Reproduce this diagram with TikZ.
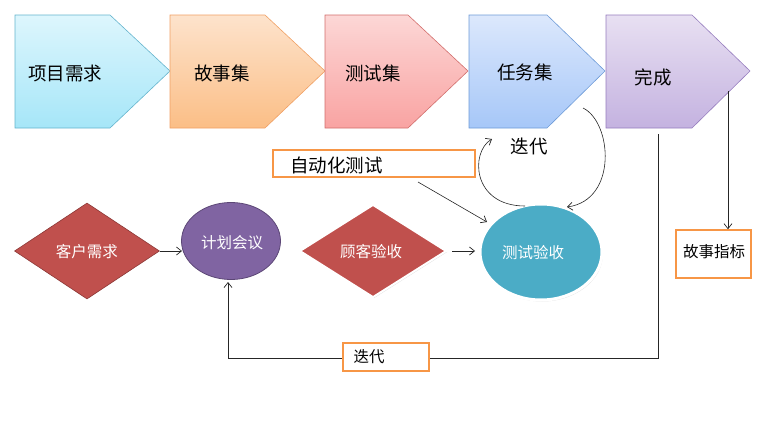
\documentclass[tikz,border=0pt]{standalone}
\usepackage{fontspec}
\setmainfont{Noto Sans CJK SC}
\usetikzlibrary{arrows.meta,shapes.geometric,shadows}
\definecolor{dred}{HTML}{C0504D}
\definecolor{dredb}{HTML}{8C3836}
\definecolor{purp}{HTML}{8064A2}
\definecolor{purpb}{HTML}{5C4776}
\definecolor{teal}{HTML}{4BACC6}
\definecolor{orng}{HTML}{F79646}
\tikzset{
  txt/.style={inner sep=0pt, text=black},
  big/.style={font=\fontsize{18.5}{20}\selectfont},
  small/.style={font=\fontsize{15.5}{17}\selectfont},
  wtxt/.style={inner sep=0pt, text=white, font=\fontsize{15.5}{17}\selectfont},
  obox/.style={draw=orng, line width=1.6pt, fill=white},
  arr/.style={-{Straight Barb[length=5pt,width=8pt,line width=0.7pt]}, line width=0.6pt, draw=black!85},
  ln/.style={line width=0.6pt, draw=black!85},
}
\begin{document}
\begin{tikzpicture}[x=1pt,y=-1pt]
\useasboundingbox (0,0) rectangle (761,423);
% pentagon arrows
\shade[top color={rgb,255:red,221;green,246;blue,253}, bottom color={rgb,255:red,166;green,230;blue,248}, draw={rgb,255:red,100;green,180;blue,205}, line width=0.6pt]
  (15,15) -- (110,15) -- (170,71) -- (110,128) -- (15,128) -- cycle;
\shade[top color={rgb,255:red,253;green,227;blue,204}, bottom color={rgb,255:red,251;green,190;blue,134}, draw={rgb,255:red,240;green,160;blue,100}, line width=0.6pt]
  (170,15) -- (265,15) -- (325,71) -- (265,128) -- (170,128) -- cycle;
\shade[top color={rgb,255:red,252;green,215;blue,214}, bottom color={rgb,255:red,249;green,163;blue,162}, draw={rgb,255:red,210;green,110;blue,108}, line width=0.6pt]
  (325,15) -- (408,15) -- (468,71) -- (408,128) -- (325,128) -- cycle;
\shade[top color={rgb,255:red,220;green,232;blue,252}, bottom color={rgb,255:red,166;green,199;blue,248}, draw={rgb,255:red,110;green,155;blue,215}, line width=0.6pt]
  (469,15) -- (547,15) -- (605,71) -- (547,128) -- (469,128) -- cycle;
\shade[top color={rgb,255:red,232;green,224;blue,242}, bottom color={rgb,255:red,196;green,178;blue,224}, draw={rgb,255:red,150;green,125;blue,190}, line width=0.6pt]
  (606,15) -- (692,15) -- (750,71) -- (692,128) -- (606,128) -- cycle;
\node[txt,big] (p1) at (65,74) {项目需求};
\node[txt,big] (p2) at (222,73) {故事集};
\node[txt,big] (p3) at (373,73) {测试集};
\node[txt,big] (p4) at (525,72) {任务集};
\node[txt,big] (p5) at (653,77) {完成};
% lower shapes
\node[diamond, aspect=1.5, fill=dred, draw=dredb, line width=0.6pt, minimum width=145pt, minimum height=96pt, inner sep=0pt] (kh) at (87,251) {};
\node[wtxt] at (87,252) {客户需求};
\node[ellipse, fill=purp, draw=purpb, line width=0.8pt, minimum width=99pt, minimum height=77pt, inner sep=0pt] (jh) at (231,241) {};
\node[wtxt] at (232,243) {计划会议};
\node[diamond, aspect=1.5, fill=dred, draw=white, line width=2pt, minimum width=147pt, minimum height=93pt, inner sep=0pt, drop shadow={opacity=0.25, shadow xshift=1pt, shadow yshift=-1pt}] (gk) at (373,251) {};
\node[wtxt] at (371,252) {顾客验收};
\node[ellipse, fill=teal, draw=white, line width=3pt, minimum width=122pt, minimum height=96pt, inner sep=0pt, drop shadow={opacity=0.25, shadow xshift=1pt, shadow yshift=-1.5pt}] (cs) at (541,252) {};
\node[wtxt] at (533,253) {测试验收};
% boxes
\node[obox, minimum width=202pt, minimum height=27pt, inner sep=0pt] (zd) at (374,163.5) {};
\node[txt,big,anchor=west] at (290,165) {自动化测试};
\node[txt,big] (dd1) at (529,146) {迭代};
\node[obox, minimum width=75pt, minimum height=48pt, inner sep=0pt] (gs) at (713.5,254) {};
\node[txt,small] at (714,252) {故事指标};
% connectors
\coordinate (k1) at (182,251);
\draw[arr] (kh.east) -- (k1);
\coordinate (a1) at (452,251);
\coordinate (a2) at (475,251);
\draw[arr] (a1) -- (a2);
\coordinate (z1) at (418,182);
\coordinate (z2) at (487,222);
\draw[arr] (z1) -- (z2);
\coordinate (c1) at (525,206);
\coordinate (c2) at (492,139);
\draw[arr] (c1) .. controls (472,206) and (470,152) .. (c2);
\coordinate (c3) at (583,108);
\coordinate (c4) at (567,207);
\draw[arr] (c3) .. controls (612,122) and (618,200) .. (c4);
\coordinate (w1) at (728,91);
\draw[arr] (w1) -- (gs.north -| w1);
\coordinate (b1) at (658,134);
\coordinate (b2) at (658,358);
\coordinate (b3) at (228,358);
\draw[ln] (b1) -- (b2) -- (b3);
\draw[arr] (b3) -- (228,282);
\node[obox, minimum width=86pt, minimum height=28pt, inner sep=0pt] (dd2) at (386,357) {};
\node[txt,small] at (369,357) {迭代};
\end{tikzpicture}
\end{document}
